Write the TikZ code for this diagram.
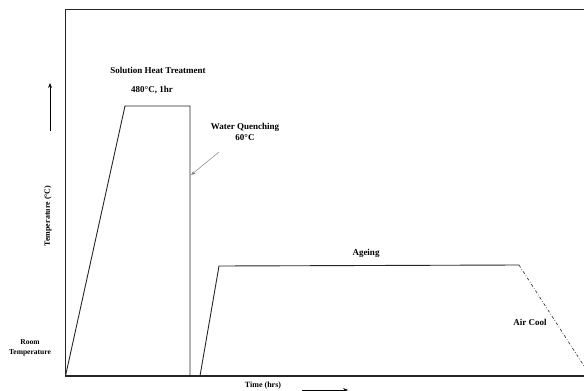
\documentclass[tikz,border=0pt]{standalone}
\usepackage{fontspec}
\setmainfont{Liberation Serif}
\usetikzlibrary{arrows.meta,positioning}
\tikzset{
  etiqueta/.style={
    font=\bfseries\fontsize{9}{10.5}\selectfont,
    align=center,
    inner sep=1pt
  },
  chica/.style={
    font=\bfseries\fontsize{7.5}{9.5}\selectfont,
    align=center,
    inner sep=1pt
  },
  eje/.style={
    line width=1.1pt,
    black!85
  },
  curva/.style={
    line width=0.9pt,
    black!85
  },
  flecha/.style={
    -{Stealth[length=1.7mm,width=1.4mm]},
    line width=1pt
  },
  guia/.style={
    -{Stealth[length=1.6mm]},
    gray,
    line width=0.5pt
  }
}

\begin{document}
\begin{tikzpicture}[x=1pt,y=-1pt]
\useasboundingbox (0,0) rectangle (584,391);
% marco
\coordinate (o) at (65.5,376);
\coordinate (tl) at (65.5,9.5);
\coordinate (tr) at (584,9.5);
\coordinate (br) at (584,376);
\draw[eje] (tr) -- (tl) -- (o) -- (br);
% tratamiento de solucion
\coordinate (s1) at (125,106);
\coordinate (s2) at (190,106);
\coordinate (s3) at (190,376);
\draw[curva] (o) -- (s1) -- (s2) -- (s3);
% envejecido
\coordinate (e0) at (200,376);
\coordinate (e1) at (219,266);
\coordinate (e2) at (519,265);
\coordinate (e3) at (584,366);
\draw[curva] (e0) -- (e1) -- (e2);
\draw[curva,line width=0.6pt,dash dot] (e2) -- (e3);
% textos
\node[etiqueta] (sol) at (158,70) {Solution Heat Treatment};
\node[etiqueta] (t480) at (152,90) {480°C, 1hr};
\node[etiqueta] (agua) at (245,132) {Water Quenching\\60°C};
\coordinate (aguaA) at (219,152);
\coordinate (aguaB) at (191,175);
\draw[guia] (aguaA) -- (aguaB);
\node[etiqueta] (age) at (366,253) {Ageing};
\node[etiqueta] (aire) at (530,322) {Air Cool};
\node[chica] (room) at (30,348) {Room\\Temperature};
\node[chica,rotate=90,font=\bfseries\fontsize{8}{9}\selectfont] (ylab) at (48,216) {Temperature (°C)};
\node[chica,font=\bfseries\fontsize{8}{9}\selectfont] (xlab) at (263,386) {Time (hrs)};
% flechas de ejes
\coordinate (up0) at (50,131);
\coordinate (up1) at (50,83);
\draw[flecha] (up0) -- (up1);
\coordinate (rt0) at (302,390);
\coordinate (rt1) at (348,390);
\draw[flecha] (rt0) -- (rt1);
\end{tikzpicture}
\end{document}
